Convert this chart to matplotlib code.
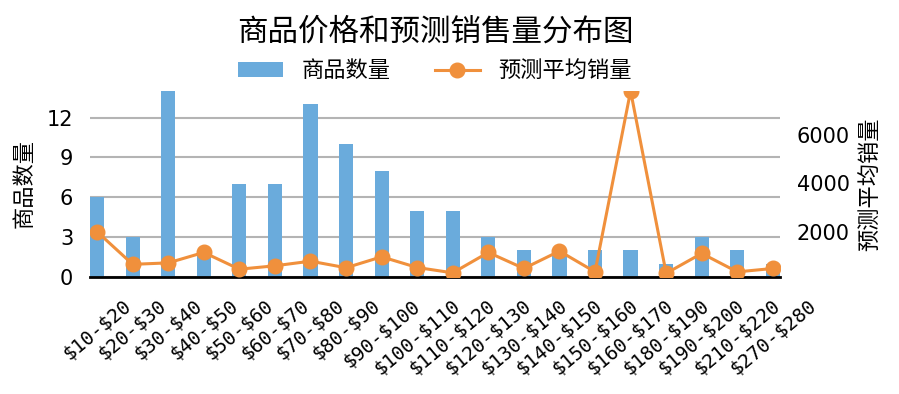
import matplotlib
matplotlib.use("Agg")
import matplotlib.pyplot as plt

# categories and values
price_ranges = ["$10-$20", "$20-$30", "$30-$40", "$40-$50", "$50-$60", "$60-$70",
                "$70-$80", "$80-$90", "$90-$100", "$100-$110", "$110-$120", "$120-$130",
                "$130-$140", "$140-$150", "$150-$160", "$160-$170", "$180-$190",
                "$190-$200", "$210-$220", "$270-$280"]
item_counts = [6, 3, 14, 2, 7, 7, 13, 10, 8, 5, 5, 3, 2, 2, 2, 2, 1, 3, 2, 1]
avg_sales = [2010, 670, 730, 1160, 470, 610, 800, 530, 980, 540, 320, 1160,
             500, 1215, 360, 7800, 300, 1120, 360, 500]

cjk = ["Noto Sans CJK SC", "DejaVu Sans"]
bar_color = "#6aabdc"
line_color = "#f0903c"

fig = plt.figure(figsize=(8.99, 3.94), dpi=100)
ax = fig.add_axes([0.1001, 0.297, 0.7675, 0.472])
ax2 = ax.twinx()

x = list(range(len(price_ranges)))
bars = ax.bar(x, item_counts, width=0.4, color=bar_color, label="商品数量", zorder=2)
line, = ax2.plot(x, avg_sales, color=line_color, lw=2.2, marker="o", ms=10.5,
                 label="预测平均销量", zorder=3)

ax.set_xlim(-0.2, len(x) - 0.8)
ax.set_ylim(0, max(item_counts))
ax.set_yticks([0, 3, 6, 9, 12])
ax2.set_ylim(150, max(avg_sales))
ax2.set_yticks([2000, 4000, 6000])

ax.set_axisbelow(True)
ax.yaxis.grid(True, color="#b4b4b4", lw=1.5)
for s in ["top", "left", "right"]:
    ax.spines[s].set_visible(False)
    ax2.spines[s].set_visible(False)
ax2.spines["bottom"].set_visible(False)
ax.spines["bottom"].set_linewidth(2)
ax.spines["bottom"].set_zorder(4)

ax.set_xticks(x)
ax.set_xticklabels([p.replace("$", r"\$") for p in price_ranges], rotation=40,
                   family="DejaVu Sans Mono", fontsize=14)
ax.tick_params(axis="x", length=0, pad=14)
ax.tick_params(axis="y", length=0, pad=12, labelsize=15)
ax2.tick_params(axis="y", length=0, pad=12, labelsize=15)

ax.set_ylabel("商品数量", family=cjk, fontsize=16, labelpad=8)
ax2.set_ylabel("预测平均销量", family=cjk, fontsize=16, labelpad=6)

fig.text(0.484, 0.919, "商品价格和预测销售量分布图", family=cjk, fontsize=22,
         ha="center", va="center")
fig.legend([bars, line], ["商品数量", "预测平均销量"], loc="center",
           bbox_to_anchor=(0.484, 0.82), ncol=2, frameon=False,
           prop={"family": cjk, "size": 16}, handlelength=2.0,
           handletextpad=0.85, columnspacing=2.0)

fig.savefig("out.png", dpi=100)
